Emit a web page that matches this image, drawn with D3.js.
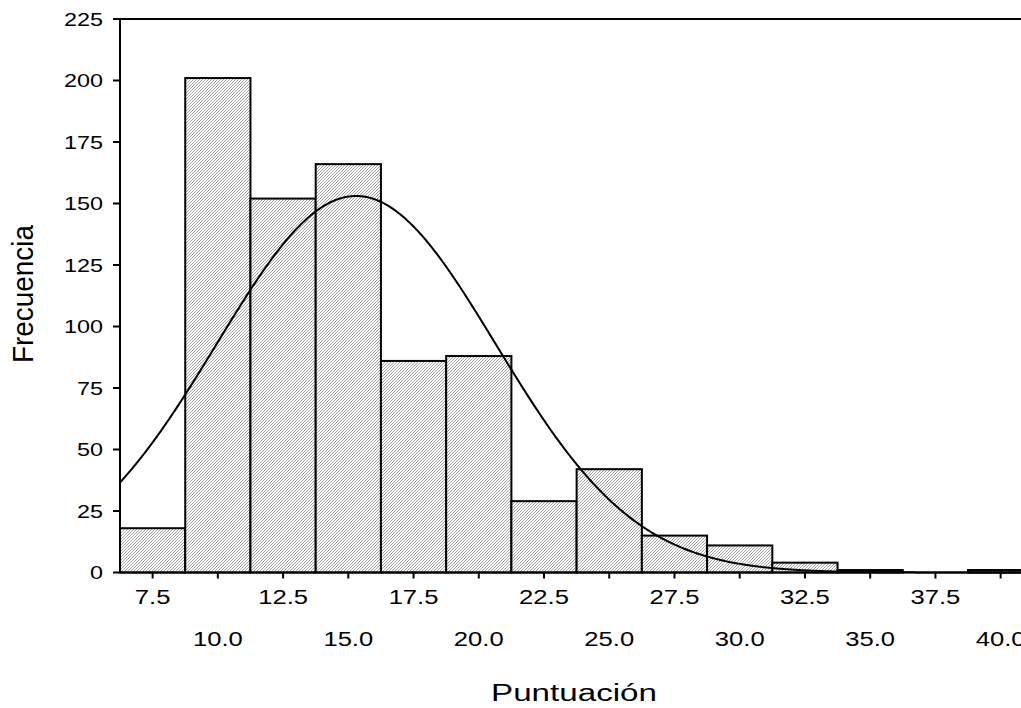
<!DOCTYPE html>
<html>
<head>
<meta charset="utf-8">
<script src="https://cdn.jsdelivr.net/npm/d3@7/dist/d3.min.js"></script>
<style>
  html, body { margin: 0; padding: 0; background: #fff; }
  svg { display: block; }
  text { font-family: "Liberation Sans", Arial, sans-serif; fill: #000; }
</style>
</head>
<body>
<svg id="chart" width="1021" height="708"></svg>
<script>
// ---- data ----
const binCenters = [7.5, 10, 12.5, 15, 17.5, 20, 22.5, 25, 27.5, 30, 32.5, 35, 37.5, 40];
const frequencies = [18, 201, 152, 166, 86, 88, 29, 42, 15, 11, 4, 1, 0, 1];
const binWidth = 2.5;
const xTickValues = [7.5, 10, 12.5, 15, 17.5, 20, 22.5, 25, 27.5, 30, 32.5, 35, 37.5, 40];
const xTickLabels = ["7.5", "10.0", "12.5", "15.0", "17.5", "20.0", "22.5", "25.0", "27.5", "30.0", "32.5", "35.0", "37.5", "40.0"];
const yTickValues = [0, 25, 50, 75, 100, 125, 150, 175, 200, 225];
// normal curve parameters (fitted)
const curveMean = 15.3;
const curveSD = 5.35;
const curveN = 821;
const xLabel = "Puntuación";
const yLabel = "Frecuencia";

// ---- layout ----
const svg = d3.select("#chart");
const pLeft = 120, pRight = 1021, pTop = 19, pBottom = 572.5;
const x = d3.scaleLinear().domain([6.25, 40.78]).range([pLeft, pRight]);
const y = d3.scaleLinear().domain([0, 225]).range([pBottom, pTop]);

// hatch pattern
const defs = svg.append("defs");
const pat = defs.append("pattern").attr("id", "hatch")
  .attr("patternUnits", "userSpaceOnUse").attr("width", 3).attr("height", 3);
pat.append("rect").attr("width", 3).attr("height", 3).attr("fill", "#ffffff");
[[0, 2], [1, 1], [2, 0]].forEach(([px, py]) => {
  pat.append("rect").attr("x", px).attr("y", py).attr("width", 1).attr("height", 1).attr("fill", "#a6a6a6");
});

// bars
const bars = binCenters.map((c, i) => ({ c, f: frequencies[i] })).filter(d => d.f > 0);
svg.append("g").selectAll("rect").data(bars).join("rect")
  .attr("x", d => x(d.c - binWidth / 2))
  .attr("y", d => y(d.f))
  .attr("width", d => x(d.c + binWidth / 2) - x(d.c - binWidth / 2))
  .attr("height", d => y(0) - y(d.f))
  .attr("fill", "url(#hatch)")
  .attr("stroke", "#000")
  .attr("stroke-width", 2);

// normal curve
const dens = v => curveN * binWidth / (curveSD * Math.sqrt(2 * Math.PI)) *
  Math.exp(-((v - curveMean) ** 2) / (2 * curveSD * curveSD));
const xs = d3.range(6.25, 40.8, 0.05);
svg.append("path")
  .attr("d", d3.line().x(v => x(v)).y(v => y(dens(v)))(xs))
  .attr("fill", "none").attr("stroke", "#000").attr("stroke-width", 2);

// axes frame
const g = svg.append("g").attr("stroke", "#000").attr("stroke-width", 2).attr("fill", "none");
g.append("line").attr("x1", pLeft).attr("x2", pLeft).attr("y1", pTop).attr("y2", pBottom);
g.append("line").attr("x1", pLeft).attr("x2", pRight).attr("y1", pTop).attr("y2", pTop);
g.append("line").attr("x1", pLeft).attr("x2", pRight).attr("y1", pBottom).attr("y2", pBottom);

// y ticks
yTickValues.forEach(v => {
  svg.append("line").attr("x1", 113).attr("x2", pLeft).attr("y1", y(v)).attr("y2", y(v))
    .attr("stroke", "#000").attr("stroke-width", 2);
  svg.append("text")
    .attr("transform", `translate(103,${y(v) + 6.5}) scale(1.3,1)`)
    .attr("text-anchor", "end")
    .style("font-size", "18px")
    .text(v);
});

// x ticks
xTickValues.forEach((v, i) => {
  svg.append("line").attr("x1", x(v)).attr("x2", x(v)).attr("y1", pBottom).attr("y2", pBottom + 6)
    .attr("stroke", "#000").attr("stroke-width", 2);
  const by = i % 2 === 0 ? 604 : 646;
  svg.append("text")
    .attr("transform", `translate(${x(v)},${by}) scale(1.22,1)`)
    .attr("text-anchor", "middle")
    .style("font-size", "21px")
    .text(xTickLabels[i]);
});

// axis titles
svg.append("text")
  .attr("x", 574).attr("y", 701)
  .attr("text-anchor", "middle")
  .attr("textLength", 166).attr("lengthAdjust", "spacingAndGlyphs")
  .style("font-size", "23px")
  .text(xLabel);

svg.append("text")
  .attr("transform", "translate(33,294) rotate(-90) scale(1,1.3)")
  .attr("x", 0).attr("y", 0)
  .attr("text-anchor", "middle")
  .attr("textLength", 138).attr("lengthAdjust", "spacingAndGlyphs")
  .style("font-size", "22px")
  .text(yLabel);
</script>
</body>
</html>
